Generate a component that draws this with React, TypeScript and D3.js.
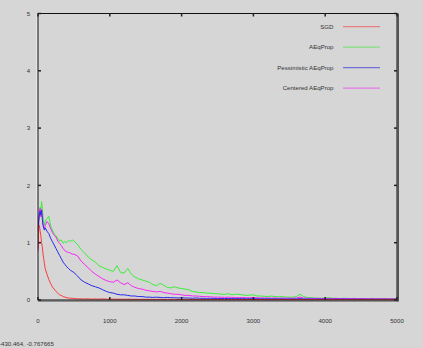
import React from "react";
import * as d3 from "d3";

const iters = [
  0, 10, 20, 30, 40, 50, 60, 70, 80, 90, 100,
  125, 150, 175, 200, 225, 250, 275, 300, 325, 350, 375, 400, 425, 450, 475, 500,
  550, 600, 650, 700, 750, 800, 850, 900, 950, 1000,
  1050, 1100, 1150, 1200, 1250, 1300, 1350, 1400, 1450, 1500,
  1550, 1600, 1650, 1700, 1750, 1800, 1850, 1900, 1950, 2000,
  2050, 2100, 2150, 2200, 2250, 2300, 2350, 2400, 2450, 2500,
  2550, 2600, 2650, 2700, 2750, 2800, 2850, 2900, 2950, 3000,
  3050, 3100, 3150, 3200, 3250, 3300, 3350, 3400, 3450, 3500,
  3550, 3600, 3650, 3700, 3750, 3800, 3850, 3900, 3950, 4000,
  4050, 4100, 4150, 4200, 4250, 4300, 4350, 4400, 4450, 4500,
  4550, 4600, 4650, 4700, 4750, 4800, 4850, 4900, 4950, 5000,
];

const sgd = [
  0.9, 1.25, 1.3, 1.2, 1.12, 1.0, 0.93, 0.8, 0.72, 0.63, 0.55,
  0.45, 0.36, 0.29, 0.23, 0.19, 0.15, 0.12, 0.09, 0.08, 0.06, 0.05, 0.04, 0.035, 0.03, 0.03, 0.025,
  0.02, 0.02, 0.018, 0.02, 0.015, 0.018, 0.015, 0.02, 0.015, 0.014,
  0.016, 0.013, 0.015, 0.012, 0.014, 0.012, 0.013, 0.011, 0.012, 0.011,
  0.012, 0.01, 0.012, 0.011, 0.01, 0.011, 0.01, 0.012, 0.01, 0.01,
  0.011, 0.01, 0.009, 0.01, 0.011, 0.009, 0.01, 0.009, 0.01, 0.009,
  0.01, 0.009, 0.008, 0.01, 0.009, 0.008, 0.009, 0.008, 0.009, 0.008,
  0.008, 0.009, 0.008, 0.007, 0.008, 0.009, 0.007, 0.008, 0.007, 0.008,
  0.007, 0.008, 0.01, 0.008, 0.007, 0.007, 0.008, 0.007, 0.006, 0.007,
  0.007, 0.006, 0.007, 0.006, 0.007, 0.006, 0.006, 0.007, 0.006, 0.006,
  0.006, 0.007, 0.006, 0.005, 0.006, 0.006, 0.005, 0.006, 0.005, 0.006,
];

const aeqprop = [
  1.1, 1.4, 1.52, 1.62, 1.55, 1.72, 1.6, 1.45, 1.35, 1.3, 1.38,
  1.42, 1.46, 1.3, 1.22, 1.16, 1.12, 1.08, 1.03, 1.05, 0.99, 1.02, 1.0, 1.04, 1.02, 1.05, 1.03,
  0.97, 0.88, 0.82, 0.75, 0.7, 0.66, 0.6, 0.57, 0.54, 0.52,
  0.5, 0.6, 0.48, 0.47, 0.55, 0.45, 0.4, 0.37, 0.35, 0.33,
  0.31, 0.27, 0.25, 0.29, 0.26, 0.22, 0.21, 0.23, 0.21, 0.2,
  0.19, 0.18, 0.15, 0.14, 0.13, 0.13, 0.12, 0.12, 0.11, 0.11,
  0.1, 0.1, 0.11, 0.09, 0.1, 0.1, 0.09, 0.08, 0.085, 0.09,
  0.07, 0.07, 0.065, 0.06, 0.07, 0.06, 0.055, 0.06, 0.05, 0.05,
  0.05, 0.06, 0.1, 0.06, 0.045, 0.04, 0.035, 0.03, 0.03, 0.03,
  0.04, 0.03, 0.03, 0.025, 0.03, 0.03, 0.022, 0.03, 0.022, 0.02,
  0.02, 0.02, 0.028, 0.02, 0.02, 0.027, 0.02, 0.02, 0.02, 0.018,
];

const pessimistic = [
  1.2, 1.4, 1.5, 1.55, 1.48, 1.57, 1.42, 1.3, 1.25, 1.22, 1.26,
  1.2, 1.16, 1.08, 1.02, 0.96, 0.9, 0.84, 0.78, 0.72, 0.66, 0.62, 0.58, 0.55, 0.52, 0.5, 0.48,
  0.42, 0.35, 0.31, 0.28, 0.25, 0.23, 0.21, 0.18, 0.15, 0.13,
  0.12, 0.1, 0.09, 0.09, 0.08, 0.07, 0.07, 0.06, 0.06, 0.05,
  0.05, 0.045, 0.05, 0.045, 0.04, 0.045, 0.04, 0.04, 0.035, 0.04,
  0.035, 0.035, 0.03, 0.035, 0.03, 0.03, 0.028, 0.03, 0.028, 0.026,
  0.026, 0.025, 0.027, 0.024, 0.025, 0.023, 0.024, 0.022, 0.023, 0.022,
  0.021, 0.022, 0.02, 0.021, 0.02, 0.02, 0.019, 0.02, 0.018, 0.019,
  0.018, 0.019, 0.025, 0.018, 0.017, 0.017, 0.016, 0.017, 0.016, 0.016,
  0.015, 0.016, 0.015, 0.015, 0.016, 0.014, 0.015, 0.014, 0.014, 0.015,
  0.014, 0.013, 0.014, 0.013, 0.013, 0.014, 0.013, 0.012, 0.013, 0.012,
];

const centered = [
  0.85, 1.3, 1.55, 1.6, 1.45, 1.58, 1.45, 1.32, 1.28, 1.25, 1.3,
  1.37, 1.33, 1.25, 1.18, 1.13, 1.1, 1.03, 0.99, 0.95, 0.9, 0.86, 0.84, 0.83, 0.82, 0.8, 0.8,
  0.77, 0.68, 0.62, 0.56, 0.5, 0.45, 0.41, 0.37, 0.34, 0.32,
  0.31, 0.35, 0.3, 0.27, 0.3, 0.25, 0.22, 0.2, 0.19, 0.17,
  0.16, 0.15, 0.14, 0.15, 0.13, 0.12, 0.11, 0.1, 0.1, 0.09,
  0.08, 0.08, 0.07, 0.07, 0.065, 0.06, 0.06, 0.055, 0.05, 0.05,
  0.05, 0.045, 0.05, 0.045, 0.045, 0.04, 0.045, 0.04, 0.04, 0.042,
  0.038, 0.037, 0.035, 0.036, 0.034, 0.035, 0.033, 0.034, 0.032, 0.033,
  0.031, 0.035, 0.05, 0.034, 0.03, 0.03, 0.028, 0.029, 0.027, 0.028,
  0.027, 0.026, 0.027, 0.025, 0.026, 0.024, 0.025, 0.024, 0.023, 0.024,
  0.023, 0.022, 0.023, 0.022, 0.021, 0.022, 0.021, 0.02, 0.021, 0.02,
];

const seriesNames = ["SGD", "AEqProp", "Pessimistic AEqProp", "Centered AEqProp"];
const seriesData = [sgd, aeqprop, pessimistic, centered];
const seriesColors = ["#ff3a3a", "#3aee3a", "#2a2aee", "#f428f4"];
const legendColors = ["#e88080", "#80e080", "#7070d8", "#e878e8"];
const xTicks = [0, 1000, 2000, 3000, 4000, 5000];
const yTicks = [0, 1, 2, 3, 4, 5];
const coordText = "-430.464, -0.767665";

const W = 423;
const H = 348;
const left = 38;
const right = 397;
const top = 13.5;
const bottom = 300;

export default function App() {
  const x = d3.scaleLinear().domain([0, 5000]).range([left, right]);
  const y = d3.scaleLinear().domain([0, 5]).range([bottom, top]);
  const line = d3
    .line<[number, number]>()
    .x((d) => x(d[0]))
    .y((d) => y(d[1]));
  const font = "'Liberation Sans', Arial, sans-serif";
  const fs = 6.1;
  const drawOrder = [1, 3, 2, 0];
  return (
    <div style={{ position: "fixed", left: 0, top: 0 }}>
      <svg width={W} height={H} style={{ display: "block" }}>
        <rect x={0} y={0} width={W} height={H} fill="#d6d6d6" />
        {drawOrder.map((i) => (
          <path
            key={i}
            d={line(iters.map((t, k) => [t, seriesData[i][k]] as [number, number])) || ""}
            fill="none"
            stroke={seriesColors[i]}
            strokeWidth={1}
            strokeLinejoin="round"
          />
        ))}
        {/* frame */}
        <line x1={left - 1} y1={top} x2={left - 1} y2={bottom} stroke="#f2f2f2" strokeWidth={1} />
        <rect x={left} y={top} width={right - left} height={bottom - top} fill="none" stroke="#111" strokeWidth={1} />
        <line x1={right + 1} y1={top} x2={right + 1} y2={bottom + 1.5} stroke="#555" strokeWidth={2} />
        <line x1={left} y1={bottom + 1} x2={right + 1} y2={bottom + 1} stroke="#444" strokeWidth={1.2} />
        {/* ticks */}
        {xTicks.map((t) => (
          <g key={"x" + t}>
            <line x1={x(t)} x2={x(t)} y1={bottom} y2={bottom - 3} stroke="#222" strokeWidth={1.5} />
            <line x1={x(t)} x2={x(t)} y1={top} y2={top + 3} stroke="#222" strokeWidth={1.5} />
            <text x={x(t)} y={323} fontSize={fs} fontFamily={font} fill="#333" textAnchor="middle">
              {t}
            </text>
          </g>
        ))}
        {yTicks.map((t) => (
          <g key={"y" + t}>
            <line x1={left} x2={left + 3} y1={y(t)} y2={y(t)} stroke="#222" strokeWidth={1.5} />
            <line x1={right} x2={right - 3} y1={y(t)} y2={y(t)} stroke="#222" strokeWidth={1.5} />
            <text x={28.5} y={y(t) + 2.2} fontSize={fs} fontFamily={font} fill="#333" textAnchor="middle">
              {t}
            </text>
          </g>
        ))}
        {/* legend */}
        {seriesNames.map((n, i) => (
          <g key={n}>
            <text x={333.5} y={28.9 + i * 20.5} fontSize={fs} fontFamily={font} fill="#333" textAnchor="end">
              {n}
            </text>
            <line x1={343} x2={380} y1={26.7 + i * 20.5} y2={26.7 + i * 20.5} stroke={legendColors[i]} strokeWidth={1.3} />
          </g>
        ))}
        <text x={-1} y={346} fontSize={fs} fontFamily={font} fill="#333">
          {coordText}
        </text>
      </svg>
    </div>
  );
}
